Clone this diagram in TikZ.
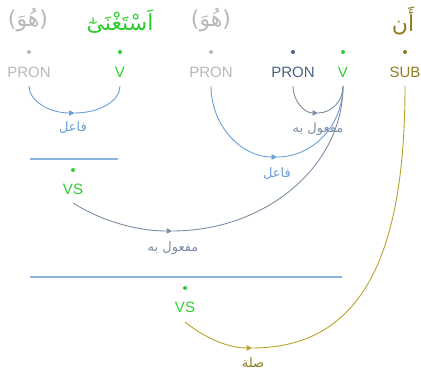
\documentclass[tikz,border=0pt]{standalone}
\usepackage{fontspec}
\setmainfont{Liberation Sans}
\newfontfamily\arabicfont[Script=Arabic]{DejaVu Sans}
\newfontfamily\parenfont{DejaVu Sans}
\TeXXeTstate=1
\usetikzlibrary{arrows.meta}
\definecolor{cgray}{HTML}{B8B8B8}
\definecolor{cgreen}{HTML}{2ECC2E}
\definecolor{cnavy}{HTML}{4A6382}
\definecolor{cblue}{HTML}{6A9FD8}
\definecolor{cline}{HTML}{8AB4E0}
\definecolor{cslate}{HTML}{7C8EA3}
\definecolor{colive}{HTML}{8C7C1C}
\definecolor{carcolive}{HTML}{B7A22B}
\tikzset{
  tag/.style={font=\fontsize{15}{17}\selectfont, inner sep=0pt},
  word/.style={font=\arabicfont\fontsize{22}{26}\selectfont, inner sep=0pt},
  rel/.style={font=\arabicfont\fontsize{13}{15}\selectfont, inner sep=0pt},
  dotn/.style={circle, fill, inner sep=0pt, minimum size=4pt},
  arcline/.style={line width=0.9pt},
  tipped/.style={-{Triangle[length=5.5pt,width=5.5pt]}},
  sepline/.style={cline, line width=1.3pt},
}
\begin{document}
\begin{tikzpicture}[x=1pt,y=-1pt]
\useasboundingbox (0,0) rectangle (421,371);
% words
\node[word, text=cgray] (w1) at (28,20) {{\parenfont (}\beginR هُوَ\endR{\parenfont )}};
\node[word, text=cgreen] (w2) at (120,22) {\beginR اَسْتَغْنَىٰٓ\endR};
\node[word, text=cgray] (w3) at (211,20) {{\parenfont (}\beginR هُوَ\endR{\parenfont )}};
\node[word] (w4) at (309,19) {\beginR{\color{cgreen}رَّءَا}{\color{cnavy}هُ}\endR};
\node[word, text=colive] (w5) at (403,21) {\beginR أَن\endR};
% dots
\node[dotn, cgray] (d1) at (29,52) {};
\node[dotn, cgreen] (d2) at (120,52) {};
\node[dotn, cgray] (d3) at (211,52) {};
\node[dotn, cnavy] (d4) at (293,52) {};
\node[dotn, cgreen] (d5) at (343,52) {};
\node[dotn, colive] (d6) at (405,52) {};
% tags
\node[tag, text=cgray] (t1) at (29,72) {PRON};
\node[tag, text=cgreen] (t2) at (120,72) {V};
\node[tag, text=cgray] (t3) at (211,72) {PRON};
\node[tag, text=cnavy] (t4) at (293,72) {PRON};
\node[tag, text=cgreen] (t5) at (343,72) {V};
\node[tag, text=colive] (t6) at (405,72) {SUB};
% arc end points
\coordinate (p1) at (29,86);
\coordinate (v1) at (120,86);
\coordinate (p3) at (211,86);
\coordinate (p4) at (293,86);
\coordinate (v5) at (343,86);
\coordinate (s6) at (405,86);
\coordinate (b1) at (74.5,113);
\coordinate (b2) at (318,113);
\coordinate (b3) at (277,157);
\coordinate (b4) at (172,231);
\coordinate (b5) at (252,348);
% VS nodes
\node[dotn, cgreen] (vs1d) at (73,170) {};
\node[tag, text=cgreen] (vs1) at (73,189) {VS};
\node[dotn, cgreen] (vs2d) at (185,288) {};
\node[tag, text=cgreen] (vs2) at (185,307) {VS};
\coordinate (vs1a) at (73,203);
\coordinate (vs2a) at (185,322);
% separator lines
\coordinate (l1a) at (30,159); \coordinate (l1b) at (118,159);
\coordinate (l2a) at (30,277); \coordinate (l2b) at (342,277);
\draw[sepline] (l1a) -- (l1b);
\draw[sepline] (l2a) -- (l2b);
% arc 1: fa'il
\draw[arcline, cblue, tipped] (p1) .. controls (29,101) and (49.4,113) .. (b1);
\draw[arcline, cblue] (b1) .. controls (99.6,113) and (120,101) .. (v1);
\node[rel, text=cblue] (r1) at (73,128) {\beginR فاعل\endR};
% arc 2: maf'ul bih
\draw[arcline, cslate, tipped] (p4) .. controls (293,101) and (304.2,113) .. (b2);
\draw[arcline, cslate] (b2) .. controls (331.8,113) and (343,101) .. (v5);
\node[rel, text=cslate] (r2) at (318,129) {\beginR مفعول به\endR};
% arc 3: fa'il
\draw[arcline, cblue, tipped] (p3) .. controls (211,125) and (240.6,157) .. (b3);
\draw[arcline, cblue] (b3) .. controls (313.4,157) and (343,125) .. (v5);
\node[rel, text=cblue] (r3) at (277,174) {\beginR فاعل\endR};
% arc 4: maf'ul bih
\draw[arcline, cslate, tipped] (vs1a) .. controls (100,220) and (135,231) .. (b4);
\draw[arcline, cslate] (b4) .. controls (266,231) and (343,166) .. (v5);
\node[rel, text=cslate] (r4) at (173,248) {\beginR مفعول به\endR};
% arc 5: sila
\draw[arcline, carcolive, tipped] (vs2a) .. controls (205,338) and (228,348) .. (b5);
\draw[arcline, carcolive] (b5) .. controls (365,348) and (405,250) .. (s6);
\node[rel, text=colive] (r5) at (253,363) {\beginR صلة\endR};
\end{tikzpicture}
\end{document}
